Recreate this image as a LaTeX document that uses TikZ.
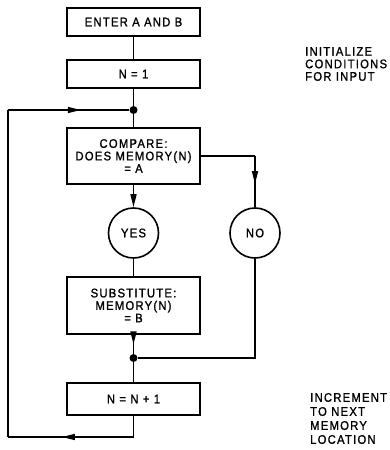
\documentclass[tikz,border=0pt]{standalone}
\usepackage{fontspec}
\setmainfont{Liberation Sans}[FakeStretch=0.9, LetterSpace=10, FakeBold=1.2]
\usetikzlibrary{arrows.meta,decorations.markings}
\tikzset{
  fs/.style={font=\fontsize{12.5}{12.5}\selectfont},
  procbox/.style={draw, line width=2.2pt, minimum width=133pt, inner sep=0pt, align=center, fs},
  circ/.style={draw, circle, line width=1.6pt, minimum size=50pt, inner sep=0pt, fs},
  conn/.style={line width=1.4pt},
  jdot/.style={circle, fill, inner sep=0pt, minimum size=8pt},
  tip/.style={-{Triangle[length=13pt,width=6pt]}},
  midtip/.style={postaction={decorate}, decoration={markings, mark=at position #1 with {\arrow{Triangle[length=13pt,width=6pt]}}}},
  note/.style={anchor=west, align=left, inner sep=0pt, fs}
}
\begin{document}
\begin{tikzpicture}[x=1pt,y=-1pt]
\useasboundingbox (0,0) rectangle (389,450);
\node[procbox, minimum height=28pt] (enter) at (133.5,22) {ENTER A AND B};
\node[procbox, minimum height=28pt] (n1) at (133.5,74) {N = 1};
\node[jdot] (d1) at (133.5,110) {};
\node[procbox, minimum height=56pt] (cmp) at (133.5,156) {COMPARE:\\DOES MEMORY(N)\\= A};
\node[circ] (yes) at (133.5,233) {YES};
\node[circ] (no) at (255,233) {NO};
\node[procbox, minimum height=57pt] (sub) at (133.5,305.5) {SUBSTITUTE:\\MEMORY(N)\\= B};
\node[jdot] (d2) at (133.5,358) {};
\node[procbox, minimum height=32pt] (inc) at (133.5,399) {N = N + 1};
\coordinate (nc) at (no.north |- cmp.east);
\coordinate (bc) at (inc.south |- 0,437);
\coordinate (bl) at (8,437);
\coordinate (tl) at (8,110);
\node[note] (t1) at (305,64) {INITIALIZE\\CONDITIONS\\FOR INPUT};
\node[note, font=\fontsize{12.5}{14}\selectfont] (t2) at (310,418.5) {INCREMENT\\TO NEXT\\MEMORY\\LOCATION};
\draw[conn] (enter) -- (n1);
\draw[conn] (n1) -- (d1);
\draw[conn] (d1) -- (cmp);
\draw[conn, tip] (cmp) -- (yes);
\draw[conn] (cmp.east) -- (nc);
\draw[conn, midtip=0.55] (nc) -- (no.north);
\draw[conn] (yes) -- (sub);
\draw[conn, midtip=0.5] (sub.south) -- (d2);
\draw[conn] (no.south) |- (d2);
\draw[conn] (d2) -- (inc);
\draw[conn] (inc.south) -- (bc);
\draw[conn, midtip=0.57] (bc) -- (bl);
\draw[conn] (bl) -- (tl);
\draw[conn, midtip=0.6] (tl) -- (d1);
\end{tikzpicture}
\end{document}
